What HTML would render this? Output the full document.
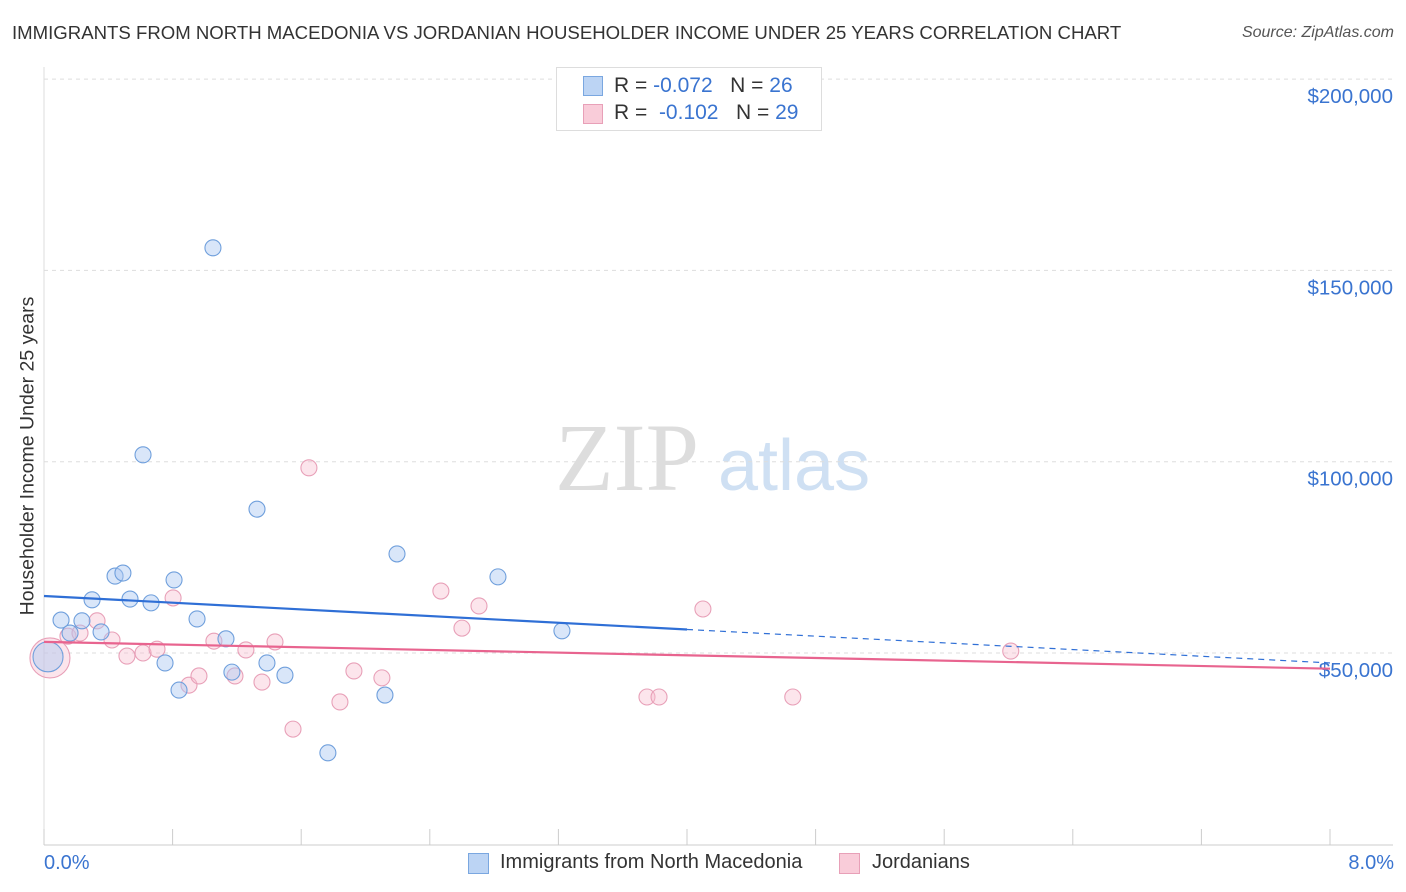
<!DOCTYPE html>
<html><head><meta charset="utf-8"><style>
body{margin:0;background:#fff;font-family:"Liberation Sans",Arial,sans-serif;}
#wrap{position:relative;width:1406px;height:892px;overflow:hidden;}
.t{position:absolute;white-space:nowrap;}
</style></head><body>
<div id="wrap">
<div class="t" style="left:12px;top:22px;font-size:18.6px;color:#333;">IMMIGRANTS FROM NORTH MACEDONIA VS JORDANIAN HOUSEHOLDER INCOME UNDER 25 YEARS CORRELATION CHART</div>
<div class="t" style="right:12px;top:24px;font-size:16px;color:#555;font-style:italic;">Source: ZipAtlas.com</div>
<svg id="svg" width="1406" height="892" style="position:absolute;left:0;top:0">
<text x="555" y="490" font-size="96" fill="#ddd" font-family="Liberation Serif,serif">ZIP</text>
<text x="718" y="490" font-size="72" fill="#cfe0f3" font-family="Liberation Sans,sans-serif">atlas</text>
</svg>
<div class="t" style="left:28px;top:456px;font-size:19.5px;color:#333;transform:translate(-50%,-50%) rotate(-90deg);">Householder Income Under 25 years</div>
<div class="t" style="left:44px;top:852px;font-size:20px;color:#3a74d0;">0.0%</div>
<div class="t" style="right:12px;top:852px;font-size:20px;color:#3a74d0;">8.0%</div>
<div style="position:absolute;left:556px;top:67px;width:264px;height:62px;border:1px solid #ddd;background:#fff;font-size:21px;color:#333;">
 <div style="position:absolute;left:26px;top:8px;width:18px;height:18px;background:#bcd4f4;border:1px solid #7aa7e0;"></div>
 <div class="t" style="left:57px;top:6px;">R = <span style="color:#3a74d0">-0.072</span>&nbsp;&nbsp;&nbsp;N = <span style="color:#3a74d0">26</span></div>
 <div style="position:absolute;left:26px;top:36px;width:18px;height:18px;background:#f9ccd9;border:1px solid #e8a0b8;"></div>
 <div class="t" style="left:57px;top:33px;">R = &nbsp;<span style="color:#3a74d0">-0.102</span>&nbsp;&nbsp;&nbsp;N = <span style="color:#3a74d0">29</span></div>
</div>
<div style="position:absolute;left:468px;top:851px;font-size:20px;color:#333;">
 <div style="position:absolute;left:0;top:2px;width:19px;height:19px;background:#bcd4f4;border:1px solid #7aa7e0;"></div>
 <div class="t" style="left:32px;top:0;">Immigrants from North Macedonia</div>
 <div style="position:absolute;left:371px;top:2px;width:19px;height:19px;background:#f9ccd9;border:1px solid #e8a0b8;"></div>
 <div class="t" style="left:404px;top:0;">Jordanians</div>
</div>
</div>
<script>
const yTicks=[50000,100000,150000,200000];
const yTickLabels=["$50,000","$100,000","$150,000","$200,000"];
const blueX=[0.106,0.162,0.236,0.299,0.355,0.442,0.491,0.535,0.616,0.666,0.753,0.809,0.840,0.952,1.051,1.132,1.169,1.325,1.387,1.499,1.766,2.121,2.196,2.824,3.222,0.025];
const blueY=[58600,55200,58400,63900,55500,70100,70900,64100,101800,63100,47400,69100,40300,58900,155900,53700,45000,87600,47400,44200,23900,39000,75900,69900,55800,49000];
const pinkX=[0.037,0.149,0.224,0.330,0.423,0.516,0.616,0.703,0.803,0.902,0.964,1.057,1.188,1.256,1.356,1.437,1.549,1.648,1.841,1.928,2.102,2.469,2.600,2.706,3.751,3.826,4.099,4.658,6.014];
const pinkY=[48700,54400,55200,58400,53400,49200,50000,51000,64400,41600,44000,53100,44000,50800,42400,52900,30100,98400,37200,45300,43500,66200,56500,62300,38500,38500,61500,38500,50500];
const blueTrend=[64900,47400];
const pinkTrend=[52900,45900];
const xs=v=>44+v/8*1286;
const ys=v=>653-(v-50000)/50000*191.3;
const svg=document.getElementById('svg');
const NS='http://www.w3.org/2000/svg';
function mk(t,a){const e=document.createElementNS(NS,t);for(const k in a)e.setAttribute(k,a[k]);svg.appendChild(e);return e;}
yTicks.forEach((v,i)=>{
 const g=mk('line',{x1:44,x2:1393,y1:ys(v),y2:ys(v),stroke:'#ddd','stroke-dasharray':'4,4'});
 
 
 const t=mk('text',{x:1393,y:ys(v)+24,'text-anchor':'end','font-size':20.5,fill:'#3a74d0'});
 t.textContent=yTickLabels[i];
 
 
});
const ax=mk('line',{x1:44,x2:1393,y1:845,y2:845,stroke:'#ccc'});


const ay=mk('line',{x1:44,x2:44,y1:67,y2:845,stroke:'#ddd'});


for(let i=0;i<=10;i++){
 const tk=mk('line',{x1:xs(i*0.8),x2:xs(i*0.8),y1:829,y2:845,stroke:'#ccc'});
 
 
}
function pts(X,Y,fill,stroke,name){
 X.forEach((x,i)=>{
  const bigB=i===X.length-1&&name==='blue-point', bigP=i===0&&name==='pink-point';
  const c=mk('circle',{cx:xs(x),cy:ys(Y[i]),r:bigP?20:(bigB?15:8),fill:fill,stroke:stroke,'stroke-width':1.1});
  
  
 });
}
pts(pinkX,pinkY,'rgba(248,190,208,0.4)','#e8a0b8','pink-point');
pts(blueX,blueY,'rgba(170,200,242,0.45)','#6f9fdc','blue-point');
const bAt=x=>blueTrend[0]+(blueTrend[1]-blueTrend[0])*x/8;
const l1=mk('line',{x1:xs(0),y1:ys(bAt(0)),x2:xs(4),y2:ys(bAt(4)),stroke:'#2f6fd6','stroke-width':2.2});


const l2=mk('line',{x1:xs(4),y1:ys(bAt(4)),x2:xs(8),y2:ys(bAt(8)),stroke:'#2f6fd6','stroke-width':1.2,'stroke-dasharray':'6,5'});


const l3=mk('line',{x1:xs(0),y1:ys(pinkTrend[0]),x2:xs(8),y2:ys(pinkTrend[1]),stroke:'#e8648f','stroke-width':2.2});


</script>
</body></html>
